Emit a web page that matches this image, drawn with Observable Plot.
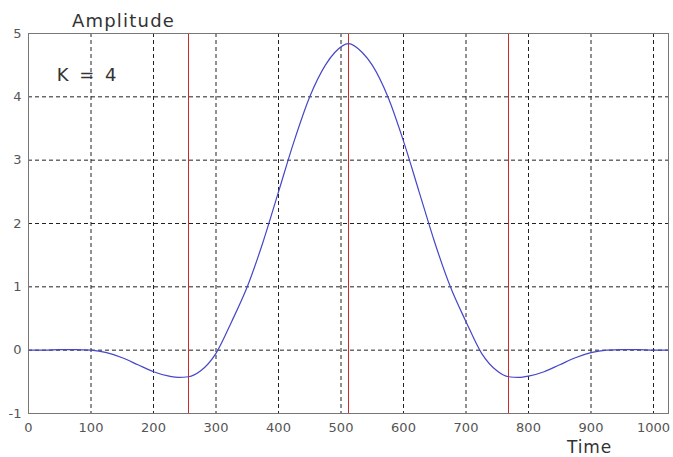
<!DOCTYPE html>
<html>
<head>
<meta charset="utf-8">
<script src="https://cdn.jsdelivr.net/npm/d3@7"></script>
<script src="https://cdn.jsdelivr.net/npm/@observablehq/plot@0.6"></script>
<style>
  html, body { margin: 0; padding: 0; background: #fff; }
  #chart svg { display: block; }
</style>
</head>
<body>
<div id="chart"></div>
<script>
const time = [0, 25, 50, 75, 100, 125, 150, 175, 200, 225, 240, 256, 275, 300, 325, 350, 375, 400, 425, 450, 475, 490, 512, 534, 550, 575, 600, 625, 650, 675, 700, 725, 750, 768, 784, 800, 825, 850, 875, 900, 925, 950, 975, 1000, 1024];
const amplitude = [0, 0, 0.01, 0.01, 0, -0.04, -0.12, -0.23, -0.34, -0.41, -0.43, -0.42, -0.33, -0.05, 0.45, 1.0, 1.7, 2.5, 3.3, 4.0, 4.5, 4.7, 4.84, 4.7, 4.5, 4.0, 3.3, 2.5, 1.7, 1.0, 0.45, -0.05, -0.33, -0.42, -0.43, -0.41, -0.34, -0.23, -0.12, -0.04, 0, 0.01, 0.01, 0, 0];
const boundaries = [256, 512, 768];
const xTicks = [0, 100, 200, 300, 400, 500, 600, 700, 800, 900, 1000];
const yTicks = [-1, 0, 1, 2, 3, 4, 5];
const xGrid = [100, 200, 300, 400, 500, 600, 700, 800, 900, 1000];
const yGrid = [0, 1, 2, 3, 4];
const annotation = "K = 4";
const yLabel = "Amplitude";
const xLabel = "Time";

const data = time.map((t, i) => ({t, a: amplitude[i]}));

const chart = Plot.plot({
  width: 673,
  height: 457,
  marginLeft: 28,
  marginRight: 5,
  marginTop: 33,
  marginBottom: 44,
  style: {fontFamily: "'DejaVu Sans', sans-serif", fontSize: "13px", color: "#555", background: "#fff"},
  x: {domain: [0, 1024], ticks: xTicks, tickSize: 0, tickPadding: 9, tickFormat: d => String(d), label: null},
  y: {domain: [-1, 5], ticks: yTicks, tickSize: 0, tickPadding: 7, tickFormat: d => String(d), label: null},
  marks: [
    Plot.ruleX(xGrid, {stroke: "#222", strokeWidth: 1, strokeDasharray: "4,3"}),
    Plot.ruleY(yGrid, {stroke: "#222", strokeWidth: 1, strokeDasharray: "4,3"}),
    Plot.ruleX(boundaries, {stroke: "#cc2a2a", strokeWidth: 1}),
    Plot.line(data, {x: "t", y: "a", stroke: "#4646c8", strokeWidth: 1.2, curve: "monotone-x"}),
    Plot.frame({stroke: "#777", strokeWidth: 1}),
    Plot.text([annotation], {x: 95, y: 4.34, text: d => d, fontSize: 18, fill: "#333", textAnchor: "middle", lineAnchor: "middle"}),
    Plot.text([yLabel], {frameAnchor: "top-left", dx: 95, dy: -12, text: d => d, fontSize: 18, fill: "#333", textAnchor: "middle", lineAnchor: "middle"}),
    Plot.text([xLabel], {frameAnchor: "bottom-left", dx: 561, dy: 34, text: d => d, fontSize: 17, fill: "#333", textAnchor: "middle", lineAnchor: "middle"})
  ]
});
chart.querySelectorAll("text").forEach(t => {
  if (t.textContent === yLabel) t.setAttribute("letter-spacing", "1.2");
  if (t.textContent === annotation) t.setAttribute("letter-spacing", "2.5");
  if (t.textContent === xLabel) t.setAttribute("letter-spacing", "0.8");
});
document.getElementById("chart").appendChild(chart);
</script>
</body>
</html>
